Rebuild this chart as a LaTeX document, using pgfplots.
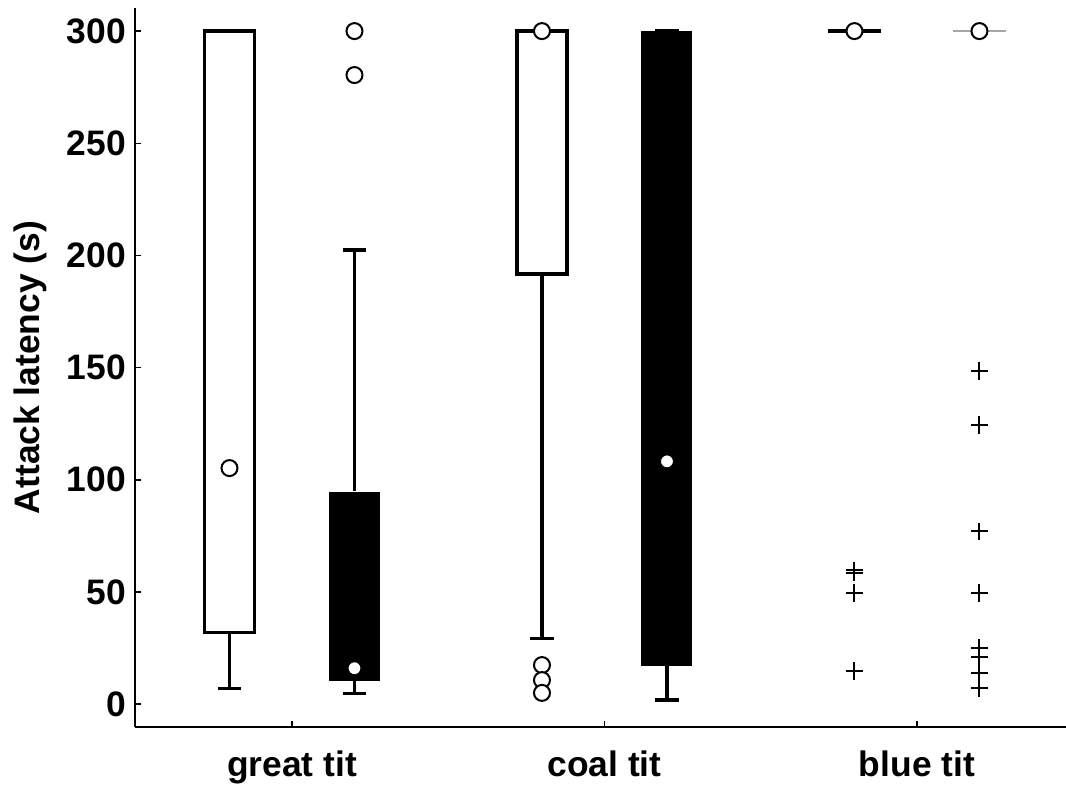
\documentclass[border=0pt]{standalone}
\usepackage{pgfplots}
\pgfplotsset{compat=1.18}
\usepackage{fontspec}
\setmainfont{Liberation Sans}
\begin{document}
\begin{tikzpicture}
\useasboundingbox (-67.5pt,-29pt) rectangle (465.5pt,363.5pt);
\begin{axis}[
  at={(0,0)}, anchor=south west,
  scale only axis, width=465.5pt, height=359.5pt,
  xmin=0.4976, xmax=3.477, ymin=-10.2, ymax=310.3,
  axis x line=bottom, axis y line=left,
  axis line style={-, line width=0.75pt},
  tick align=inside, major tick length=3pt,
  tick style={line width=0.75pt, black},
  xtick={1,2,3}, xticklabels={great tit, coal tit, blue tit},
  ytick={0,50,...,300},
  /pgf/number format/assume math mode=true,
  ticklabel style={font=\bfseries\fontsize{17.7}{20}\selectfont},
  xticklabel style={yshift=-8.5pt},
  yticklabel style={xshift=-1pt},
  ylabel={Attack latency (s)},
  ylabel style={font=\bfseries\fontsize{17.7}{20}\selectfont, at={(axis description cs:-0.112,0.5)}, anchor=center, rotate=0},
  clip=false,
]
% ---- great tit, white
\addplot[draw=black, line width=1.8pt, fill=white] coordinates {(0.72,32) (0.88,32) (0.88,300) (0.72,300)} -- cycle;
\addplot[black, line width=1.6pt] coordinates {(0.8,32) (0.8,7.1)};
\addplot[black, line width=1.6pt] coordinates {(0.762,7.1) (0.838,7.1)};
\addplot[only marks, mark=*, mark size=4pt, mark options={fill=white, draw=black, line width=1pt}] coordinates {(0.8,105.2)};
% ---- great tit, black
\addplot[black, line width=1.6pt] coordinates {(1.2,95) (1.2,202.4)};
\addplot[black, line width=1.6pt] coordinates {(1.162,202.4) (1.238,202.4)};
\addplot[black, line width=1.6pt] coordinates {(1.2,10.7) (1.2,4.9)};
\addplot[black, line width=1.6pt] coordinates {(1.162,4.9) (1.238,4.9)};
\addplot[draw=black, line width=0.5pt, fill=black] coordinates {(1.12,10.7) (1.28,10.7) (1.28,94.5) (1.12,94.5)} -- cycle;
\addplot[only marks, mark=*, mark size=3.2pt, mark options={fill=white, draw=none}] coordinates {(1.2,16)};
\addplot[only marks, mark=*, mark size=4pt, mark options={fill=white, draw=black, line width=1pt}] coordinates {(1.2,300) (1.2,280.4)};
% ---- coal tit, white
\addplot[black, line width=1.6pt] coordinates {(1.8,191.7) (1.8,29.4)};
\addplot[black, line width=1.6pt] coordinates {(1.762,29.4) (1.838,29.4)};
\addplot[draw=black, line width=1.8pt, fill=white] coordinates {(1.72,191.7) (1.88,191.7) (1.88,300) (1.72,300)} -- cycle;
\addplot[only marks, mark=*, mark size=4pt, mark options={fill=white, draw=black, line width=1pt}] coordinates {(1.8,300) (1.8,17.4) (1.8,10.7) (1.8,5.0)};
% ---- coal tit, black
\addplot[black, line width=1.6pt] coordinates {(2.2,17.4) (2.2,1.8)};
\addplot[black, line width=1.6pt] coordinates {(2.162,1.8) (2.238,1.8)};
\addplot[black, line width=1.6pt] coordinates {(2.162,300.3) (2.238,300.3)};
\addplot[draw=black, line width=0.5pt, fill=black] coordinates {(2.12,17.4) (2.28,17.4) (2.28,300) (2.12,300)} -- cycle;
\addplot[only marks, mark=*, mark size=3.2pt, mark options={fill=white, draw=none}] coordinates {(2.2,108.2)};
% ---- blue tit, white
\addplot[black, line width=2pt] coordinates {(2.715,300) (2.885,300)};
\addplot[only marks, mark=*, mark size=4pt, mark options={fill=white, draw=black, line width=1pt}] coordinates {(2.8,300)};
\addplot[only marks, mark=+, mark size=4.3pt, mark options={black, line width=1pt}] coordinates {(2.8,59.7) (2.8,58.5) (2.8,49.5) (2.8,14.8)};
% ---- blue tit, black
\addplot[gray!70, line width=0.6pt] coordinates {(3.115,300) (3.285,300)};
\addplot[only marks, mark=*, mark size=4pt, mark options={fill=white, draw=black, line width=1pt}] coordinates {(3.2,300)};
\addplot[only marks, mark=+, mark size=4.3pt, mark options={black, line width=1pt}] coordinates {(3.2,148.5) (3.2,124.4) (3.2,77.1) (3.2,49.5) (3.2,25) (3.2,21.1) (3.2,14) (3.2,7)};
\end{axis}
\end{tikzpicture}
\end{document}
